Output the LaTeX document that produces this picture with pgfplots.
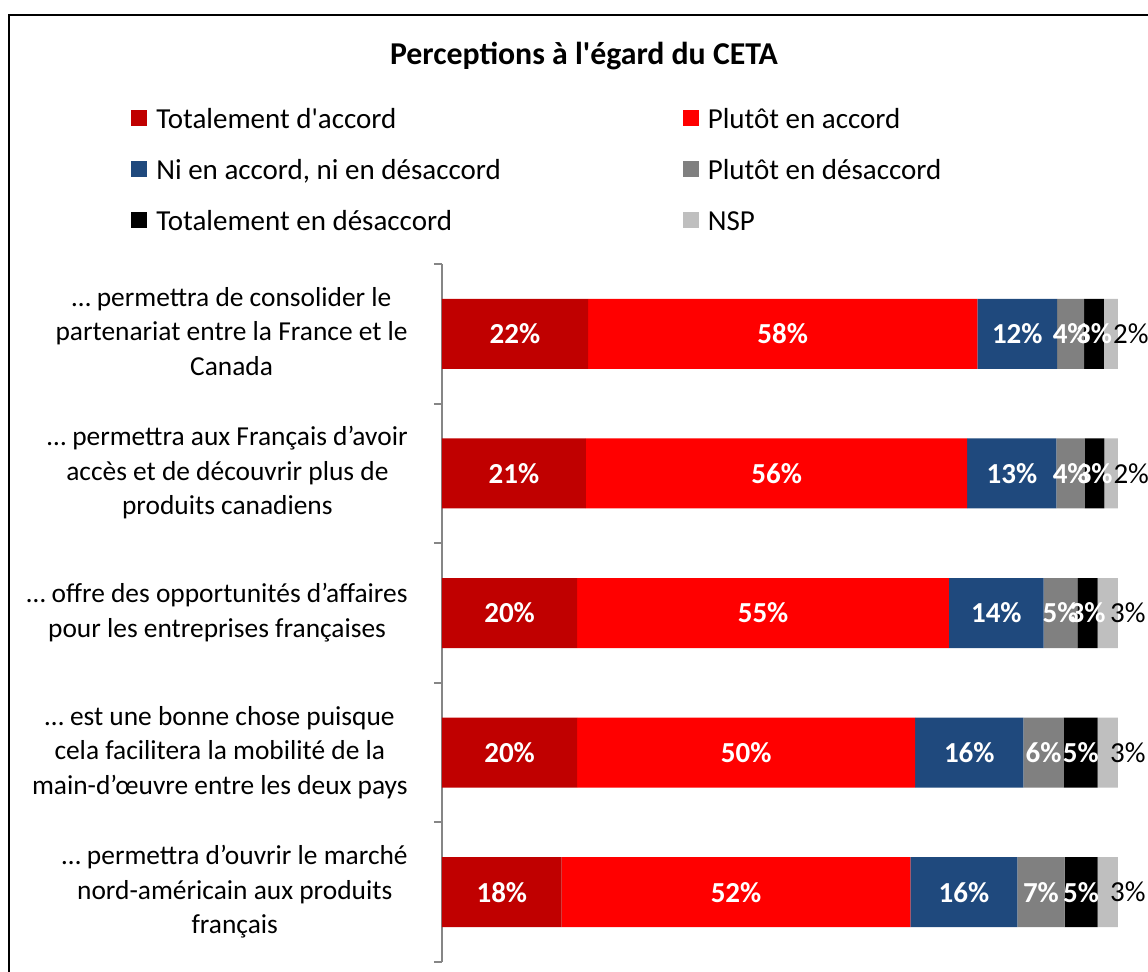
\documentclass[border=0pt]{standalone}
\usepackage{pgfplots}
\pgfplotsset{compat=1.18}
\usepackage{fontspec}
\setmainfont{Carlito}
\definecolor{c1}{RGB}{192,0,0}
\definecolor{c2}{RGB}{255,0,0}
\definecolor{c3}{RGB}{31,73,125}
\definecolor{c4}{RGB}{128,128,128}
\definecolor{c5}{RGB}{0,0,0}
\definecolor{c6}{RGB}{191,191,191}
\definecolor{axgray}{RGB}{134,134,134}
\newcommand{\lab}[1]{\begin{tabular}{@{}c@{}}#1\end{tabular}}
\pgfplotsset{
  seg/.style={
    nodes near coords={\pgfmathprintnumber[fixed,precision=0,assume math mode=true]{\pgfplotspointmeta}\%},
    every node near coord/.style={anchor=center,
      text=white, inner sep=0pt, font=\bfseries\fontsize{14.5}{17}\selectfont}},
  lastseg/.style={
    nodes near coords={\pgfmathprintnumber[fixed,precision=0,assume math mode=true]{\pgfplotspointmeta}\%},
    every node near coord/.style={anchor=center, xshift=10pt,
      text=black, inner sep=0pt, font=\fontsize{14.5}{17}\selectfont}},
}
\begin{document}
\begin{tikzpicture}
\useasboundingbox (0,0) rectangle (574pt,485.5pt);
\draw[line width=1pt] (4.5pt,-2pt) -- (4.5pt,478pt) -- (580pt,478pt);
\begin{axis}[
  at={(221pt,4.5pt)}, anchor=south west,
  scale only axis, width=338pt, height=349pt,
  xbar stacked, bar width=35pt,
  xmin=0, xmax=100, ymin=-0.5, ymax=4.5, y dir=reverse,
  clip=false,
  axis x line=none, axis y line*=left,
  y axis line style={draw=axgray, line width=1pt},
  xtick=\empty,
  ytick={0,1,2,3,4},
  minor ytick={-0.5,0.5,1.5,2.5,3.5,4.5},
  tick align=outside,
  major tick length=0pt,
  minor tick length=4pt,
  minor tick style={draw=axgray, line width=1pt},
  yticklabels={
    {\lab{… permettra de consolider le\\partenariat entre la France et le\\Canada}},
    {\lab{… permettra aux Français d’avoir\\accès et de découvrir plus de\\produits canadiens}},
    {\lab{… offre des opportunités d’affaires\\pour les entreprises françaises}},
    {\lab{… est une bonne chose puisque\\cela facilitera la mobilité de la\\main-d’œuvre entre les deux pays}},
    {\lab{… permettra d’ouvrir le marché\\nord-américain aux produits\\français}}},
  yticklabel style={font=\fontsize{13.7}{17.25}\selectfont,
    inner sep=0pt, anchor=east, xshift=-17pt},
  title={Perceptions à l\textquotesingle égard du CETA},
  title style={at={(axis description cs:0.210,1.2808)}, anchor=center,
    font=\bfseries\fontsize{15.9}{18}\selectfont},
  legend columns=2,
  legend cell align=left,
  legend image code/.code={\fill[#1] (0pt,-2.5pt) rectangle (8pt,5.5pt);},
  legend style={at={(axis description cs:-0.4601,1.2250)}, anchor=north west,
    draw=none, fill=none, inner sep=0pt, row sep=12pt,
    font=\fontsize{14.5}{17}\selectfont,
    nodes={inner sep=0pt, text height=10.5pt, text depth=3pt},
    /tikz/every odd column/.append style={column sep=4.5pt},
    /tikz/every even column/.append style={column sep=91pt}},
]
\addplot[fill=c1, draw=none, seg] coordinates {(21.6,0) (21.3,1) (20,2) (20,3) (17.7,4)};
\addplot[fill=c2, draw=none, seg] coordinates {(57.6,0) (56.4,1) (55,2) (50,3) (51.6,4)};
\addplot[fill=c3, draw=none, seg] coordinates {(11.8,0) (13.2,1) (14,2) (16,3) (15.8,4)};
\addplot[fill=c4, draw=none, seg] coordinates {(4.0,0) (4.2,1) (5,2) (6,3) (7.0,4)};
\addplot[fill=c5, draw=none, seg] coordinates {(2.9,0) (2.9,1) (3,2) (5,3) (4.9,4)};
\addplot[fill=c6, draw=none, lastseg] coordinates {(2.1,0) (2.0,1) (3,2) (3,3) (3.0,4)};
\legend{Totalement d\textquotesingle accord, Plutôt en accord, {Ni en accord, ni en désaccord}, Plutôt en désaccord, Totalement en désaccord, NSP}
\end{axis}
\end{tikzpicture}
\end{document}
